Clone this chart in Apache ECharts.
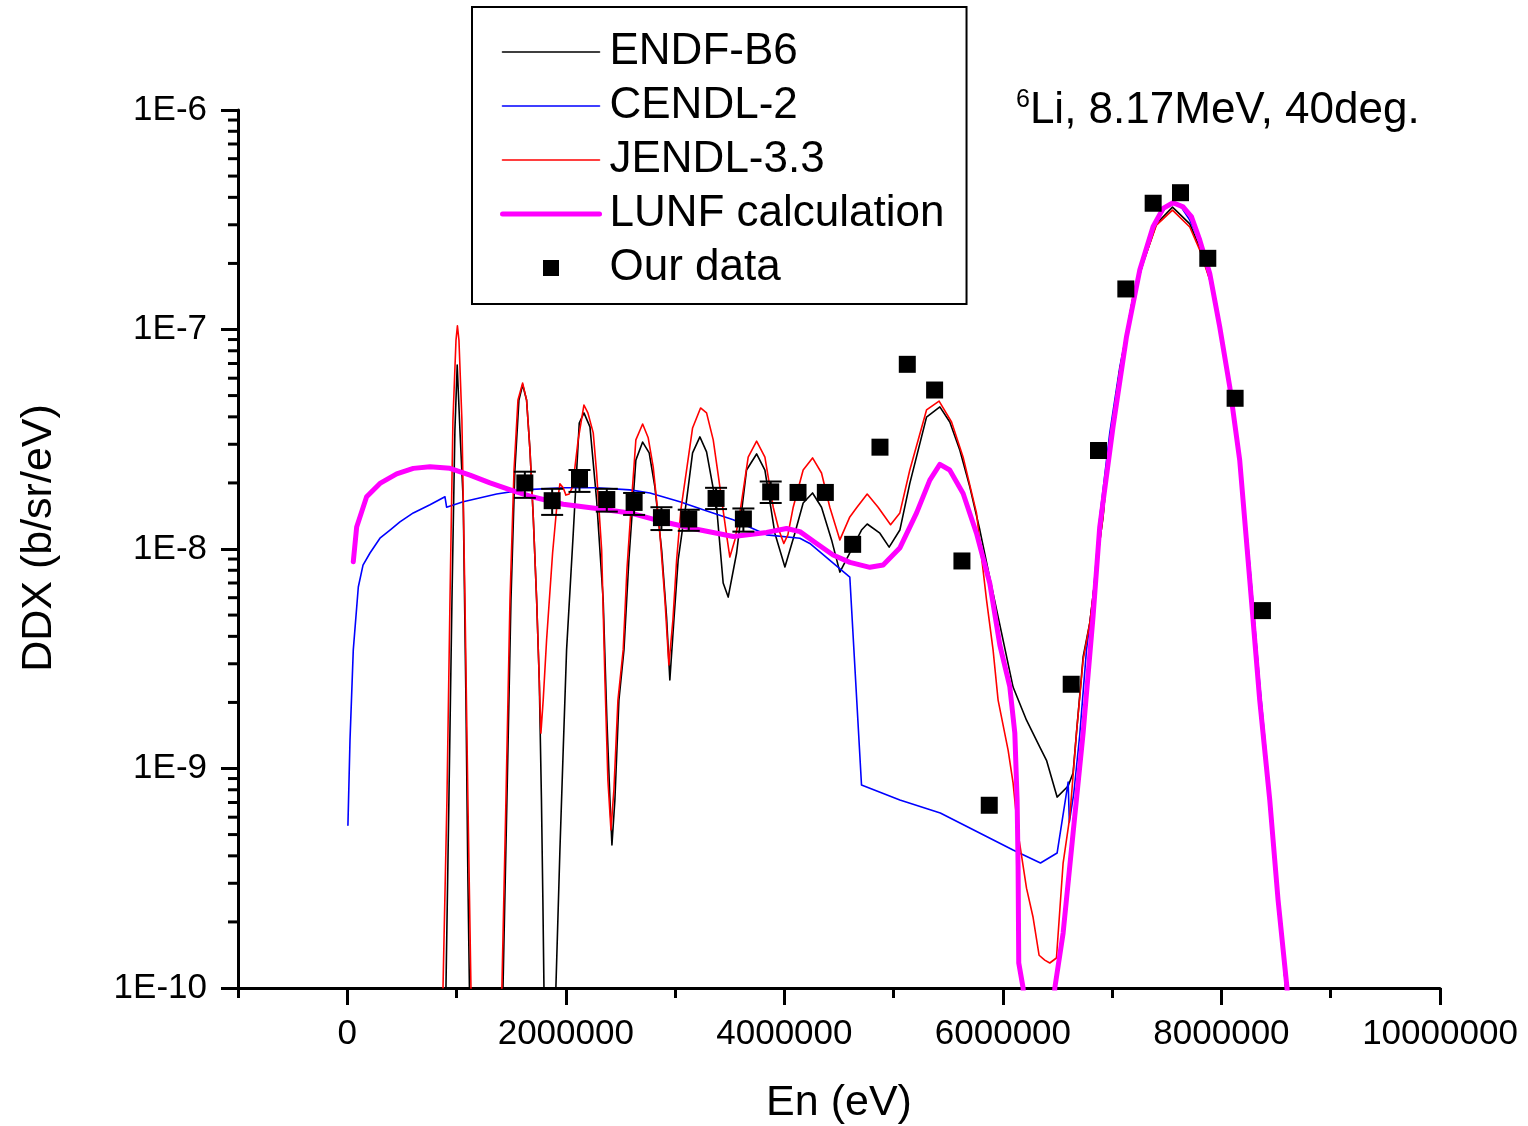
<!DOCTYPE html>
<html><head><meta charset="utf-8">
<script src="https://cdn.jsdelivr.net/npm/echarts@6/dist/echarts.min.js"></script>
<style>html,body{margin:0;padding:0;background:#fff}#c{width:1528px;height:1126px}</style>
</head><body><div id="c"></div>
<script>
const FONT = '"Liberation Sans", Arial, sans-serif';

// axis ticks
const xTickMajor = [0, 2000000, 4000000, 6000000, 8000000, 10000000];
const xTickMinor = [-1000000, 1000000, 3000000, 5000000, 7000000, 9000000];
const yTickMinor = [2e-10,3e-10,4e-10,5e-10,6e-10,7e-10,8e-10,9e-10,
  2e-9,3e-9,4e-9,5e-9,6e-9,7e-9,8e-9,9e-9,
  2e-8,3e-8,4e-8,5e-8,6e-8,7e-8,8e-8,9e-8,
  2e-7,3e-7,4e-7,5e-7,6e-7,7e-7,8e-7,9e-7];

// ENDF-B6
const endfE = [0.903e6,0.930e6,0.958e6,0.985e6,1.006e6,1.031e6,1.061e6,1.086e6,1.104e6,1.118e6,1.26e6,
  1.425e6,1.461e6,1.498e6,1.534e6,1.571e6,1.605e6,1.641e6,1.672e6,1.702e6,1.733e6,1.757e6,1.777e6,1.790e6,1.800e6,1.85e6,
  1.909e6,1.946e6,1.976e6,2.007e6,2.068e6,2.123e6,2.166e6,2.221e6,2.282e6,2.342e6,2.376e6,2.404e6,2.422e6,2.449e6,
  2.486e6,2.532e6,2.577e6,2.641e6,2.703e6,2.763e6,2.815e6,2.877e6,2.922e6,2.952e6,2.989e6,3.028e6,3.105e6,3.160e6,
  3.227e6,3.288e6,3.380e6,3.440e6,3.486e6,3.563e6,3.654e6,3.746e6,3.822e6,3.913e6,4.005e6,4.096e6,4.172e6,4.258e6,
  4.340e6,4.432e6,4.508e6,4.599e6,4.706e6,4.758e6,4.874e6,4.959e6,5.057e6,5.148e6,5.301e6,5.423e6,5.514e6,5.606e6,
  5.697e6,5.789e6,5.880e6,5.972e6,6.093e6,6.216e6,6.338e6,6.399e6,6.496e6,6.597e6,6.642e6,6.673e6,6.734e6,6.795e6,
  6.856e6,6.917e6,6.978e6,7.070e6,7.191e6,7.283e6,7.405e6,7.552e6,7.710e6,7.802e6,7.893e6,7.985e6,8.076e6,8.168e6,
  8.259e6,8.351e6,8.442e6,8.534e6,8.588e6,8.62e6];
const endfY = [1e-10,7.18e-10,5.86e-9,3.48e-8,6.89e-8,3.48e-8,1.67e-8,2.05e-9,3.10e-10,1e-10,1e-12,
  1e-10,7.18e-10,5.86e-9,2.29e-8,4.77e-8,5.60e-8,4.77e-8,2.82e-8,1.40e-8,5.86e-9,2.53e-9,7.18e-10,2.52e-10,1e-10,1e-12,
  1e-10,4.25e-10,1.21e-9,3.47e-9,1.18e-8,3.75e-8,4.17e-8,3.60e-8,1.67e-8,5.86e-9,1.66e-9,7.18e-10,4.48e-10,7.18e-10,
  2.05e-9,3.47e-9,8.91e-9,2.54e-8,3.07e-8,2.74e-8,1.92e-8,9.89e-9,4.90e-9,2.53e-9,4.74e-9,8.91e-9,1.67e-8,2.74e-8,
  3.24e-8,2.77e-8,1.55e-8,7.00e-9,6.04e-9,9.59e-9,2.29e-8,2.71e-8,2.29e-8,1.18e-8,8.28e-9,1.18e-8,1.62e-8,1.80e-8,
  1.55e-8,1.10e-8,7.85e-9,9.59e-9,1.22e-8,1.30e-8,1.18e-8,1.02e-8,1.22e-8,1.99e-8,3.99e-8,4.44e-8,3.79e-8,2.82e-8,
  1.92e-8,1.22e-8,7.38e-9,4.51e-9,2.35e-9,1.66e-9,1.25e-9,1.09e-9,7.41e-10,8.32e-10,9.53e-10,1.45e-9,3.22e-9,4.60e-9,
  8.28e-9,1.41e-8,3.14e-8,6.54e-8,1.41e-7,2.01e-7,3.03e-7,3.61e-7,3.03e-7,2.35e-7,1.70e-7,1.03e-7,5.47e-8,2.54e-8,
  8.2e-9,2.3e-9,7.3e-10,2.1e-10,1e-10,5e-11];

// CENDL-2
const cendlE = [0.006e6,0.025e6,0.055e6,0.101e6,0.144e6,0.208e6,0.299e6,0.391e6,0.482e6,0.604e6,0.757e6,0.894e6,0.909e6,
  1.061e6,1.367e6,1.610e6,1.976e6,2.282e6,2.586e6,2.770e6,3.044e6,3.257e6,3.532e6,3.837e6,4.142e6,4.233e6,4.447e6,4.599e6,
  4.706e6,5.057e6,5.427e6,6.093e6,6.344e6,6.496e6,6.597e6,6.608e6,6.649e6,6.703e6,6.765e6,6.823e6,6.887e6,6.978e6,
  7.070e6,7.191e6,7.283e6,7.405e6,7.490e6,7.557e6,7.636e6,7.710e6,7.802e6,7.893e6,7.985e6,8.076e6,8.168e6,8.259e6,
  8.351e6,8.442e6,8.534e6,8.588e6,8.62e6];
const cendlY = [5.52e-10,1.35e-9,3.47e-9,6.71e-9,8.45e-9,9.59e-9,1.12e-8,1.22e-8,1.33e-8,1.46e-8,1.59e-8,1.73e-8,1.55e-8,
  1.64e-8,1.78e-8,1.86e-8,1.90e-8,1.90e-8,1.86e-8,1.80e-8,1.64e-8,1.51e-8,1.36e-8,1.16e-8,1.12e-8,1.06e-8,8.63e-9,7.45e-9,
  8.41e-10,7.18e-10,6.27e-10,4.25e-10,3.71e-10,4.12e-10,8.67e-10,5.70e-10,7.73e-10,1.42e-9,3.47e-9,5.86e-9,1.40e-8,3.38e-8,
  6.75e-8,1.36e-7,2.03e-7,3.09e-7,3.61e-7,3.81e-7,3.58e-7,3.15e-7,2.48e-7,1.77e-7,1.04e-7,5.53e-8,2.60e-8,8.45e-9,
  2.40e-9,7.73e-10,2.15e-10,1e-10,5e-11];

// JENDL-3.3
const jendlE = [0.876e6,0.912e6,0.940e6,0.967e6,0.995e6,1.008e6,1.022e6,1.049e6,1.077e6,1.104e6,1.132e6,1.27e6,
  1.415e6,1.452e6,1.489e6,1.526e6,1.562e6,1.605e6,1.641e6,1.672e6,1.702e6,1.733e6,1.757e6,1.772e6,1.793e6,1.824e6,
  1.879e6,1.919e6,1.946e6,1.976e6,2.001e6,2.031e6,2.062e6,2.113e6,2.166e6,2.202e6,2.251e6,2.282e6,2.328e6,2.358e6,
  2.385e6,2.413e6,2.440e6,2.477e6,2.525e6,2.559e6,2.602e6,2.641e6,2.703e6,2.754e6,2.800e6,2.861e6,2.907e6,2.943e6,
  2.980e6,3.014e6,3.053e6,3.105e6,3.160e6,3.233e6,3.288e6,3.349e6,3.410e6,3.471e6,3.501e6,3.547e6,3.593e6,3.669e6,
  3.746e6,3.822e6,3.898e6,3.950e6,3.995e6,4.032e6,4.081e6,4.172e6,4.258e6,4.340e6,4.416e6,4.508e6,4.599e6,4.661e6,
  4.758e6,4.858e6,4.972e6,5.057e6,5.148e6,5.301e6,5.416e6,5.530e6,5.636e6,5.758e6,5.850e6,5.910e6,5.956e6,6.048e6,
  6.093e6,6.139e6,6.216e6,6.276e6,6.331e6,6.383e6,6.429e6,6.490e6,6.551e6,6.612e6,6.673e6,6.734e6,6.795e6,6.856e6,
  6.917e6,6.978e6,7.070e6,7.191e6,7.283e6,7.405e6,7.552e6,7.710e6,7.802e6,7.893e6,7.985e6,8.076e6,8.168e6,8.259e6,
  8.351e6,8.442e6,8.534e6,8.588e6,8.62e6];
const jendlY = [1e-10,7.18e-10,5.86e-9,3.87e-8,8.95e-8,1.04e-7,8.95e-8,3.87e-8,5.86e-9,7.18e-10,1e-10,1e-12,
  1e-10,7.18e-10,5.86e-9,2.29e-8,4.77e-8,5.70e-8,4.77e-8,2.82e-8,1.40e-8,5.86e-9,2.53e-9,1.45e-9,2.05e-9,3.85e-9,
  9.59e-9,1.59e-8,1.98e-8,1.90e-8,1.76e-8,1.78e-8,1.92e-8,3.14e-8,4.53e-8,4.17e-8,3.38e-8,2.22e-8,9.89e-9,2.53e-9,
  8.86e-10,5.25e-10,7.98e-10,2.05e-9,3.47e-9,8.02e-9,1.67e-8,3.14e-8,3.71e-8,3.21e-8,2.36e-8,1.18e-8,5.86e-9,2.96e-9,
  4.74e-9,8.91e-9,1.51e-8,2.29e-8,3.56e-8,4.39e-8,4.17e-8,3.14e-8,1.92e-8,1.16e-8,9.19e-9,1.10e-8,1.46e-8,2.62e-8,
  3.10e-8,2.62e-8,1.55e-8,1.22e-8,1.06e-8,1.16e-8,1.55e-8,2.29e-8,2.60e-8,2.22e-8,1.55e-8,1.10e-8,1.40e-8,1.54e-8,
  1.78e-8,1.55e-8,1.29e-8,1.46e-8,2.29e-8,4.30e-8,4.72e-8,3.79e-8,2.62e-8,1.46e-8,5.86e-9,3.47e-9,2.05e-9,1.21e-9,
  8.59e-10,5.08e-10,2.85e-10,2.10e-10,1.41e-10,1.34e-10,1.30e-10,1.37e-10,3.71e-10,6.01e-10,1.45e-9,3.12e-9,4.60e-9,8.28e-9,
  1.41e-8,3.14e-8,6.54e-8,1.41e-7,2.01e-7,2.99e-7,3.50e-7,2.93e-7,2.30e-7,1.68e-7,1.03e-7,5.47e-8,2.54e-8,8.02e-9,
  2.28e-9,7.18e-10,2.04e-10,1e-10,5e-11];

// LUNF calculation
const lunfE = [0.055e6,0.086e6,0.177e6,0.299e6,0.452e6,0.604e6,0.757e6,0.940e6,1.123e6,1.306e6,1.519e6,1.672e6,1.976e6,
  2.282e6,2.586e6,2.891e6,3.197e6,3.532e6,3.837e6,4.020e6,4.142e6,4.295e6,4.446e6,4.600e6,4.783e6,4.904e6,5.056e6,
  5.210e6,5.331e6,5.423e6,5.513e6,5.636e6,5.758e6,5.880e6,5.972e6,6.063e6,6.109e6,6.130e6,6.139e6,6.145e6,6.185e6,6.30e6,
  6.475e6,6.551e6,6.642e6,6.734e6,6.825e6,6.886e6,7.008e6,7.131e6,7.253e6,7.374e6,7.466e6,7.557e6,7.649e6,7.725e6,
  7.801e6,7.893e6,7.984e6,8.076e6,8.167e6,8.259e6,8.350e6,8.442e6,8.518e6,8.600e6,8.62e6];
const lunfY = [8.75e-9,1.26e-8,1.73e-8,1.99e-8,2.20e-8,2.33e-8,2.37e-8,2.33e-8,2.17e-8,2.00e-8,1.84e-8,1.74e-8,1.60e-8,
  1.53e-8,1.46e-8,1.33e-8,1.23e-8,1.14e-8,1.19e-8,1.24e-8,1.20e-8,1.06e-8,9.39e-9,8.69e-9,8.25e-9,8.45e-9,1.01e-8,
  1.46e-8,2.06e-8,2.43e-8,2.29e-8,1.79e-8,1.18e-8,6.98e-9,3.65e-9,2.36e-9,1.45e-9,7.18e-10,3.57e-10,1.30e-10,1.0e-10,1e-12,
  1.0e-10,1.78e-10,5.07e-10,1.45e-9,4.92e-9,1.26e-8,3.61e-8,9.27e-8,1.87e-7,2.94e-7,3.56e-7,3.78e-7,3.62e-7,3.27e-7,
  2.56e-7,1.80e-7,1.03e-7,5.48e-8,2.54e-8,7.23e-9,2.05e-9,7.18e-10,2.52e-10,1.0e-10,6e-11];

// Our data (measured) with error bars
const dataE = [1.625e6,1.875e6,2.125e6,2.375e6,2.625e6,2.875e6,3.125e6,3.375e6,3.625e6,3.875e6,4.125e6,4.375e6,4.625e6,
  4.875e6,5.125e6,5.375e6,5.625e6,5.875e6,6.625e6,6.875e6,7.125e6,7.375e6,7.625e6,7.875e6,8.125e6,8.375e6];
const dataY = [2.0e-8,1.66e-8,2.08e-8,1.68e-8,1.63e-8,1.39e-8,1.37e-8,1.70e-8,1.37e-8,1.82e-8,1.81e-8,1.81e-8,1.05e-8,
  2.91e-8,6.94e-8,5.30e-8,8.82e-9,6.80e-10,2.42e-9,2.81e-8,1.53e-7,3.76e-7,4.20e-7,2.11e-7,4.86e-8,5.24e-9];
const dataErrLow = [1.71e-8,1.43e-8,1.82e-8,1.48e-8,1.43e-8,1.22e-8,1.21e-8,1.52e-8,1.20e-8,1.62e-8];
const dataErrHigh = [2.25e-8,1.88e-8,2.29e-8,1.88e-8,1.80e-8,1.55e-8,1.51e-8,1.90e-8,1.53e-8,2.03e-8];

const zip = (a, b) => a.map((v, i) => [v, b[i]]);
const errData = dataErrLow.map((lo, i) => [dataE[i], dataY[i], lo, dataErrHigh[i]]);
const X_MIN = -1000000, X_MAX = 10000000;

const chart = echarts.init(document.getElementById('c'), null, {renderer: 'canvas'});

function lineSeries(name, data, color, width, z) {
  return {
    name, type: 'line', data, symbol: 'none', showSymbol: false, smooth: false, clip: true,
    xAxisIndex: 0, yAxisIndex: 0, z,
    lineStyle: {color, width, cap: 'round', join: 'round'}, itemStyle: {color},
    emphasis: {disabled: true}, animation: false
  };
}
function legendLine(name, color, width) {
  return {name, itemStyle: {opacity: 0}, lineStyle: {color, width, cap: 'round', opacity: 1}};
}

const option = {
  animation: false,
  backgroundColor: '#fff',
  textStyle: {fontFamily: FONT},
  grid: {left: 238, right: 88, top: 110, bottom: 138, containLabel: false, outerBoundsMode: 'none'},
  title: {
    text: '{s|6}Li, 8.17MeV, 40deg.',
    left: 1011, top: 83,
    textStyle: {
      fontFamily: FONT, fontSize: 44, fontWeight: 'normal', color: '#000', lineHeight: 45,
      rich: {s: {fontFamily: FONT, fontSize: 25, color: '#000', verticalAlign: 'top', lineHeight: 45}}
    }
  },
  legend: {
    left: 472, top: 7, orient: 'vertical',
    itemWidth: 97, itemHeight: 16, itemGap: 10,
    padding: [23, 22, 14, 28],
    borderColor: '#000', borderWidth: 2,
    selectedMode: false,
    symbolKeepAspect: true,
    textStyle: {fontFamily: FONT, fontSize: 44, color: '#000', lineHeight: 44, padding: [0, 0, 0, 5]},
    data: [
      legendLine('ENDF-B6', '#000000', 1.6),
      legendLine('CENDL-2', '#0000ff', 1.6),
      legendLine('JENDL-3.3', '#ff0000', 1.6),
      legendLine('LUNF calculation', '#ff00ff', 5),
      {name: 'Our data', icon: 'path://M0,0L1,0L1,1L0,1Z', itemStyle: {color: '#000', opacity: 1}}
    ]
  },
  xAxis: [{
    type: 'value', min: X_MIN, max: X_MAX,
    name: 'En (eV)', nameLocation: 'middle', nameGap: 94,
    nameTextStyle: {fontFamily: FONT, fontSize: 43, color: '#000'},
    axisLine: {show: true, onZero: false, lineStyle: {color: '#000', width: 3}},
    axisTick: {show: true, customValues: xTickMajor, length: 17, lineStyle: {color: '#000', width: 3}},
    axisLabel: {show: true, customValues: xTickMajor, margin: 29, fontFamily: FONT, fontSize: 35, color: '#000',
      formatter: v => String(v)},
    splitLine: {show: false}
  }, {
    type: 'value', min: X_MIN, max: X_MAX, position: 'bottom', gridIndex: 0,
    axisLine: {show: false},
    axisTick: {show: true, customValues: xTickMinor, length: 10, lineStyle: {color: '#000', width: 3}},
    axisLabel: {show: false},
    splitLine: {show: false}
  }],
  yAxis: [{
    type: 'log', logBase: 10, min: 1e-10, max: 1e-6,
    name: 'DDX (b/sr/eV)', nameLocation: 'middle', nameGap: 177,
    nameTextStyle: {fontFamily: FONT, fontSize: 43, color: '#000', padding: [0, 0, 0, 22]},
    axisLine: {show: true, onZero: false, lineStyle: {color: '#000', width: 3}},
    axisTick: {show: true, length: 17, lineStyle: {color: '#000', width: 3}},
    axisLabel: {show: true, margin: 31, fontFamily: FONT, fontSize: 35, color: '#000',
      formatter: v => '1E' + Math.round(Math.log10(v))},
    splitLine: {show: false},
    minorTick: {show: false}
  }],
  series: [
    lineSeries('ENDF-B6', zip(endfE, endfY), '#000000', 1.6, 2),
    lineSeries('CENDL-2', zip(cendlE, cendlY), '#0000ff', 1.6, 3),
    lineSeries('JENDL-3.3', zip(jendlE, jendlY), '#ff0000', 1.6, 4),
    lineSeries('LUNF calculation', zip(lunfE, lunfY), '#ff00ff', 5, 5),
    {
      name: 'errbars', type: 'custom', xAxisIndex: 0, yAxisIndex: 0, z: 6, silent: true,
      data: errData, encode: {x: 0, y: 1},
      renderItem: function (params, api) {
        const x = api.value(0);
        const pLo = api.coord([x, api.value(2)]);
        const pHi = api.coord([x, api.value(3)]);
        const hw = 11;
        const st = {stroke: '#000', lineWidth: 2};
        return {type: 'group', children: [
          {type: 'line', shape: {x1: pLo[0], y1: pLo[1], x2: pHi[0], y2: pHi[1]}, style: st},
          {type: 'line', shape: {x1: pLo[0] - hw, y1: pLo[1], x2: pLo[0] + hw, y2: pLo[1]}, style: st},
          {type: 'line', shape: {x1: pHi[0] - hw, y1: pHi[1], x2: pHi[0] + hw, y2: pHi[1]}, style: st}
        ]};
      }
    },
    {
      name: 'Our data', type: 'scatter', xAxisIndex: 0, yAxisIndex: 0, z: 7,
      data: zip(dataE, dataY), symbol: 'rect', symbolSize: 17,
      itemStyle: {color: '#000', opacity: 1}, emphasis: {disabled: true}
    },
    {
      name: 'yminor', type: 'custom', xAxisIndex: 0, yAxisIndex: 0, z: 8, silent: true, clip: false,
      data: yTickMinor.map(v => [X_MIN, v]), encode: {x: 0, y: 1},
      renderItem: function (params, api) {
        const p = api.coord([api.value(0), api.value(1)]);
        return {type: 'line', shape: {x1: p[0] - 10, y1: p[1], x2: p[0], y2: p[1]},
          style: {stroke: '#000', lineWidth: 3}};
      }
    }
  ]
};
chart.setOption(option);
</script>
</body></html>
